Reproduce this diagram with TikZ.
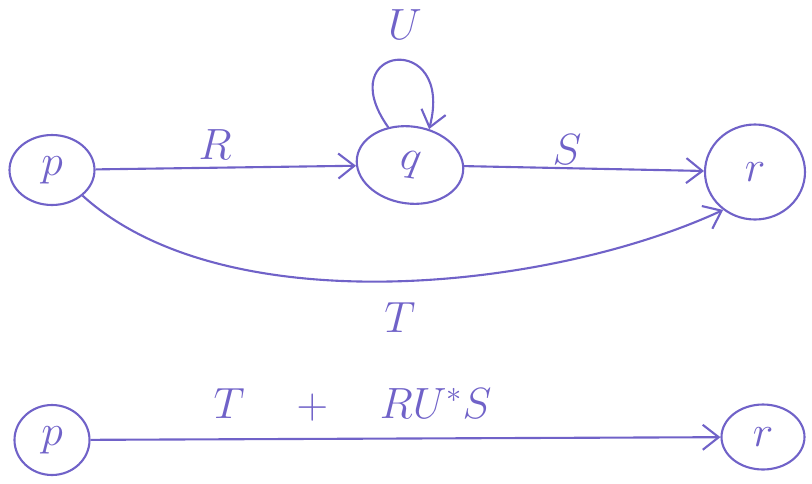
\documentclass[tikz,border=0pt]{standalone}
\usetikzlibrary{arrows.meta,shapes.geometric}
\definecolor{ink}{RGB}{112,98,200}
\begin{document}
\begin{tikzpicture}[
  every node/.style={text=ink, font=\fontsize{24}{28}\selectfont},
  state/.style={draw=ink, ellipse, line width=1.2pt, inner sep=0pt},
  edge/.style={draw=ink, line width=1.2pt, -{Straight Barb[length=3.2mm,width=5mm,line width=1.2pt]}},
  lbl/.style={inner sep=0pt}
]
\useasboundingbox (0,0) rectangle (16.24,-9.66);
\node[state, minimum width=1.7cm, minimum height=1.4cm] (p) at (1.04,-3.4) {$p$};
\node[state, minimum width=2.14cm, minimum height=1.54cm, rotate=-8] (q) at (8.2,-3.3) {$q$};
\node[state, minimum width=2.0cm, minimum height=1.9cm] (r) at (15.1,-3.44) {$r$};
\node[state, minimum width=1.5cm, minimum height=1.4cm] (p2) at (1.04,-8.8) {$p$};
\node[state, minimum width=1.66cm, minimum height=1.3cm] (r2) at (15.26,-8.74) {$r$};

\draw[edge] (p) -- (q);
\draw[edge] (q) -- (r);
\draw[edge] (p.-40) .. controls (4.5,-6.5) and (11,-5.8) .. (r.230);
\draw[edge] (q.128) .. controls (6.6,-0.9) and (9.1,-0.6) .. (q.70);
\draw[edge] (p2) -- (r2);

\node[lbl] (lR) at (4.3,-2.9) {$R$};
\node[lbl] (lS) at (11.34,-3.0) {$S$};
\node[lbl] (lU) at (8.1,-0.5) {$U$};
\node[lbl] (lT) at (8.0,-6.36) {$T$};
\node[lbl] (lB) at (7.05,-8.1) {$T \quad + \quad RU^{*}S$};
\end{tikzpicture}
\end{document}
